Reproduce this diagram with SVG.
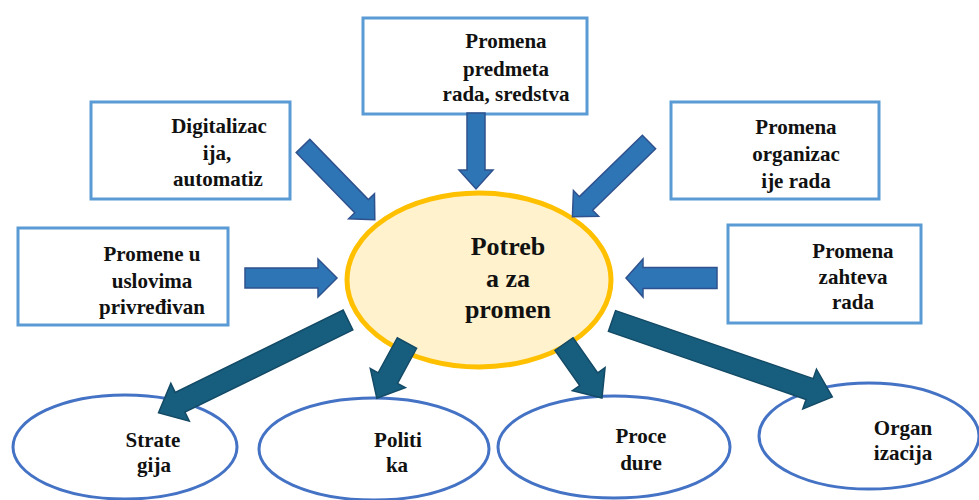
<svg xmlns="http://www.w3.org/2000/svg" width="979" height="500" viewBox="0 0 979 500">
  <style>
    .box { fill: #ffffff; stroke: #5B9BD5; stroke-width: 3; }
    .hub { fill: #FFF2CC; stroke: #FFC000; stroke-width: 5; }
    .leaf { fill: #ffffff; stroke: #4472C4; stroke-width: 3; }
    .in { fill: #2E75B6; stroke: #2F528F; stroke-width: 1.5; stroke-linejoin: miter; }
    .out { fill: #175E7E; stroke: #134A66; stroke-width: 1.5; stroke-linejoin: miter; }
    .t { font-size: 21px; }
    .h { font-size: 26px; }
  </style>

  <g font-family="Liberation Serif, Times New Roman, Times, serif" font-weight="bold" fill="#111111" text-anchor="middle">
  <!-- central node -->
  <g id="potreba">
    <ellipse class="hub" cx="479" cy="280" rx="132" ry="87"/>
    <text class="h" x="508" y="255">Potreb</text>
    <text class="h" x="508" y="287">a za</text>
    <text class="h" x="508" y="318">promen</text>
  </g>

  <!-- cause boxes -->
  <g id="predmet">
    <rect class="box" x="363" y="18" width="224" height="96"/>
    <text class="t" x="506" y="48">Promena</text>
    <text class="t" x="506" y="76">predmeta</text>
    <text class="t" x="506" y="101">rada, sredstva</text>
  </g>
  <g id="digitalizacija">
    <rect class="box" x="91" y="102" width="199" height="97"/>
    <text class="t" x="219" y="133">Digitalizac</text>
    <text class="t" x="217" y="160">ija,</text>
    <text class="t" x="218" y="186">automatiz</text>
  </g>
  <g id="organizacija-rada">
    <rect class="box" x="671" y="102" width="208" height="97"/>
    <text class="t" x="796" y="134">Promena</text>
    <text class="t" x="796" y="161">organizac</text>
    <text class="t" x="796" y="188">ije rada</text>
  </g>
  <g id="uslovi">
    <rect class="box" x="18" y="228" width="210" height="97"/>
    <text class="t" x="152" y="261">Promene u</text>
    <text class="t" x="152" y="288">uslovima</text>
    <text class="t" x="152" y="314">privređivan</text>
  </g>
  <g id="zahtevi">
    <rect class="box" x="728" y="225" width="193" height="98"/>
    <text class="t" x="853" y="258">Promena</text>
    <text class="t" x="853" y="284">zahteva</text>
    <text class="t" x="853" y="309">rada</text>
  </g>

  <!-- outcome ellipses -->
  <g id="strategija">
    <ellipse class="leaf" cx="125" cy="447" rx="112" ry="52"/>
    <text class="t" x="153" y="447">Strate</text>
    <text class="t" x="154" y="472">gija</text>
  </g>
  <g id="politika">
    <ellipse class="leaf" cx="374" cy="449" rx="115" ry="51"/>
    <text class="t" x="398" y="447">Politi</text>
    <text class="t" x="397" y="472">ka</text>
  </g>
  <g id="procedure">
    <ellipse class="leaf" cx="614" cy="447" rx="116" ry="51"/>
    <text class="t" x="641" y="443">Proce</text>
    <text class="t" x="641" y="470">dure</text>
  </g>
  <g id="organizacija">
    <ellipse class="leaf" cx="869" cy="436" rx="110" ry="53"/>
    <text class="t" x="903" y="435">Organ</text>
    <text class="t" x="903" y="460">izacija</text>
  </g>
  </g>

  <!-- connectors: block arrows, each drawn along +x from its tail -->
  <g id="connectors">
    <polygon class="in" transform="translate(476,113) rotate(90)" points="0,-9 57,-9 57,-17 76,0 57,17 57,9 0,9"/>
    <polygon class="in" transform="translate(303,146) rotate(45.8)" points="0,-9.5 84,-9.5 84,-18 103,0 84,18 84,9.5 0,9.5"/>
    <polygon class="in" transform="translate(649,142) rotate(135.7)" points="0,-9.5 88,-9.5 88,-18 107,0 88,18 88,9.5 0,9.5"/>
    <polygon class="in" transform="translate(245,278)" points="0,-10 73,-10 73,-19 92,0 73,19 73,10 0,10"/>
    <polygon class="in" transform="translate(717,278) rotate(180)" points="0,-10.5 74,-10.5 74,-19 91,0 74,19 74,10.5 0,10.5"/>
    <polygon class="out" transform="translate(348,320) rotate(153.9)" points="0,-11 187,-11 187,-21 211,0 187,21 187,11 0,11"/>
    <polygon class="out" transform="translate(407,343) rotate(118.6)" points="0,-11 40,-11 40,-20 63,0 40,20 40,11 0,11"/>
    <polygon class="out" transform="translate(564,344) rotate(54.9)" points="0,-11 43,-11 43,-20 66,0 43,20 43,11 0,11"/>
    <polygon class="out" transform="translate(612,321) rotate(19)" points="0,-11 209,-11 209,-21 233,0 209,21 209,11 0,11"/>
  </g>
</svg>
